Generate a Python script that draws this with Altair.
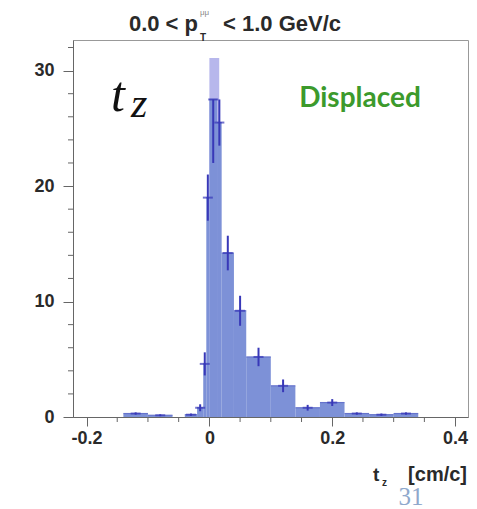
import altair as alt
import pandas as pd

# ---- data ----
bin_lo = [-0.14, -0.10, -0.04, -0.02, -0.01, -0.005, 0.0, 0.0125, 0.02, 0.04, 0.06, 0.10, 0.14, 0.18, 0.22, 0.26, 0.30]
bin_hi = [-0.10, -0.06, -0.02, -0.01, -0.005, 0.0, 0.0125, 0.02, 0.04, 0.06, 0.10, 0.14, 0.18, 0.22, 0.26, 0.30, 0.34]
counts = [0.30, 0.15, 0.20, 0.80, 4.6, 19.0, 27.5, 25.5, 14.2, 9.2, 5.2, 2.7, 0.8, 1.25, 0.3, 0.2, 0.3]
err_lo = [0.10, 0.08, 0.10, 0.30, 1.0, 2.0, 5.5, 2.0, 1.5, 1.3, 0.8, 0.55, 0.25, 0.3, 0.1, 0.1, 0.1]
err_hi = [0.10, 0.08, 0.10, 0.30, 1.0, 2.0, 0.0, 2.0, 1.5, 1.3, 0.8, 0.55, 0.25, 0.3, 0.1, 0.1, 0.1]

peak_lo = [0.0]
peak_hi = [0.016]
peak_counts = [31.1]

x_major = [-0.2, 0.0, 0.2, 0.4]
x_minor = [-0.15, -0.1, -0.05, 0.05, 0.1, 0.15, 0.25, 0.3, 0.35]
y_major = [0, 10, 20, 30]
y_minor = [2, 4, 6, 8, 12, 14, 16, 18, 22, 24, 26, 28, 32]

title_left = ["0.0 < p"]
title_sub = ["T"]
title_sup = ["μμ"]
title_right = ["< 1.0 GeV/c"]
var_t = ["t"]
var_z = ["z"]
tag = ["Displaced"]
xt_t = ["t"]
xt_z = ["z"]
xt_unit = ["[cm/c]"]
page_no = ["31"]

W, H = 395, 377
XDOM = [-0.222, 0.421]
YDOM = [0, 32.65]

FILL = "#7d91d7"
LAV = "#b7b7ec"
DARK = "#3838b8"
AXC = "#666666"
LAB = "#2a2a2a"

xs = alt.Scale(domain=XDOM, nice=False, zero=False)
ys = alt.Scale(domain=YDOM, nice=False, zero=False)

hist = pd.DataFrame({"lo": bin_lo, "hi": bin_hi, "c": counts,
                     "zero": [0.0] * len(counts)})
hist["mid"] = (hist["lo"] + hist["hi"]) / 2
hist["elo"] = hist["c"] - pd.Series(err_lo)
hist["ehi"] = hist["c"] + pd.Series(err_hi)

peak = pd.DataFrame({"lo": peak_lo, "hi": peak_hi, "c": peak_counts, "zero": [0.0]})

xaxis = alt.Axis(values=x_major, labelExpr="toString(datum.value)", tickSize=9,
                 tickColor=AXC, domainColor=AXC, labelFont="Liberation Sans",
                 labelFontWeight="bold", labelFontSize=18, labelColor=LAB,
                 labelPadding=3, grid=False, title=None, labelFlush=False)
yaxis = alt.Axis(values=y_major, tickSize=10, tickColor=AXC, domainColor=AXC,
                 labelFont="Liberation Sans", labelFontWeight="bold",
                 labelFontSize=18, labelColor=LAB, labelPadding=9,
                 grid=False, title=None)


def X(f):
    return alt.X(f, scale=xs, axis=xaxis, title=None)


def Y(f):
    return alt.Y(f, scale=ys, axis=yaxis, title=None)


peak_layer = alt.Chart(peak).mark_rect(color=LAV).encode(
    x=X("lo:Q"), x2="hi:Q", y=Y("c:Q"), y2="zero:Q")

bars = alt.Chart(hist).mark_rect(color=FILL).encode(
    x=X("lo:Q"), x2="hi:Q", y=Y("c:Q"), y2="zero:Q")

tops = alt.Chart(hist).mark_rule(color="#6573cc", strokeWidth=1.2).encode(
    x=X("lo:Q"), x2="hi:Q", y=Y("c:Q"))

ebars = alt.Chart(hist).mark_rule(color=DARK, strokeWidth=2).encode(
    x=X("mid:Q"), y=Y("elo:Q"), y2="ehi:Q")

eticks = alt.Chart(hist).mark_tick(color=DARK, orient="horizontal", size=10, thickness=2).encode(
    x=X("mid:Q"), y=Y("c:Q"))

xminor = alt.Chart(pd.DataFrame({"v": x_minor})).mark_rule(color=AXC).encode(
    x=X("v:Q"), y=alt.value(H), y2=alt.value(H + 5))
yminor = alt.Chart(pd.DataFrame({"v": y_minor})).mark_rule(color=AXC).encode(
    y=Y("v:Q"), x=alt.value(-5), x2=alt.value(0))


def txt(values, x, y, size, align="left", font="Liberation Sans", weight="bold",
        style="normal", color=LAB):
    return alt.Chart(pd.DataFrame({"s": values})).mark_text(
        align=align, baseline="alphabetic", font=font, fontSize=size,
        fontWeight=weight, fontStyle=style, color=color).encode(
        text="s:N", x=alt.value(x), y=alt.value(y))


OX, OY = 73, 40
texts = [
    txt(title_left, 198 - OX, 31 - OY, 22, align="right"),
    txt(title_sub, 200 - OX, 41 - OY, 10),
    txt(title_sup, 200 - OX, 15 - OY, 8, weight="normal", color="#888888"),
    txt(title_right, 223 - OX, 31 - OY, 22),
    txt(var_t, 111 - OX, 111 - OY, 50, font="Liberation Serif", weight="normal", style="italic", color="#111111"),
    txt(var_z, 131 - OX, 117 - OY, 42, font="Liberation Serif", weight="normal", style="italic", color="#111111"),
    txt(tag, 360 - OX, 107 - OY, 28, align="center", font="Lato", color="#3c9a2c"),
    txt(xt_t, 373 - OX, 481 - OY, 19),
    txt(xt_z, 382 - OX, 486 - OY, 10),
    txt(xt_unit, 467 - OX, 481 - OY, 20, align="right"),
    txt(page_no, 411 - OX, 505 - OY, 25, align="center", font="Liberation Serif", weight="normal", color="#8fa8cc"),
]

chart = alt.layer(peak_layer, bars, tops, ebars, eticks, xminor, yminor, *texts).properties(
    width=W, height=H,
    autosize=alt.AutoSizeParams(type="none"),
    padding={"left": OX, "top": OY, "right": 477 - OX - W, "bottom": 509 - OY - H},
    background="white",
).configure_view(stroke="#999999", strokeWidth=1)

chart.save("out.html", embed_options={"renderer": "svg", "actions": False})
